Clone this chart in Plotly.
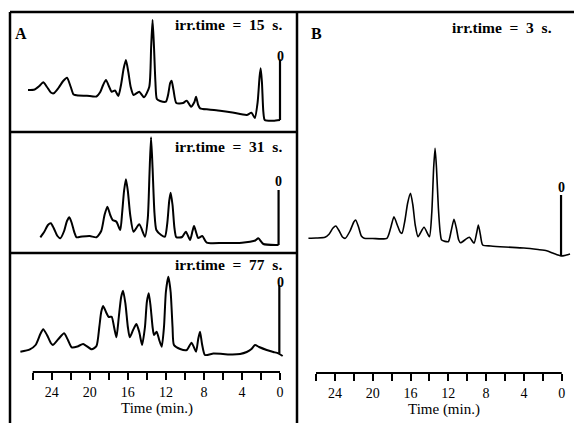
import plotly.graph_objects as go

W, H = 579, 423

# ---------------- data (time in min, detector signal in arbitrary units) ----------------
A1_T = [26.5, 25.8, 25.3, 24.9, 24.5, 24.1, 23.8, 23.3, 22.8, 22.4, 22.0, 21.7, 21.2, 20.3, 19.3, 18.9, 18.6, 18.3,
        18.0, 17.7, 17.35, 17.0, 16.7, 16.45, 16.2, 15.95, 15.7, 15.4, 14.8, 14.3, 13.75, 13.55, 13.4, 13.25, 13.1,
        12.95, 12.6, 12.0, 11.75, 11.55, 11.4, 11.2, 10.9, 10.2, 9.8, 9.36, 9.0, 8.83, 8.6, 8.4, 7.5, 6.3, 5.0, 3.5,
        3.0, 2.65, 2.35, 2.15, 2.03, 1.9, 1.75, 1.6, 0.7, 0.0]
A1_V = [42, 42.5, 46, 49.7, 45, 39.5, 38.7, 44, 51, 54.3, 45, 37.5, 36.5, 36.3, 35.5, 40, 47, 52,
        46, 40.3, 41.5, 36, 48, 63, 72, 60, 45, 37, 40.3, 34.7, 45, 85, 112, 85, 50,
        33, 31, 30.3, 38, 49, 51.3, 42, 29, 29, 31.3, 25.3, 30, 35.3, 27, 23.7, 22.5, 21.3, 19.5, 17,
        19.3, 14, 30, 55, 63.7, 50, 20, 12, 11.3, 12]

A2_T = [25.2, 24.8, 24.4, 24.1, 23.8, 23.4, 23.1, 22.7, 22.4, 22.15, 21.9, 21.6, 21.4, 20.8, 20.0, 19.3, 18.8, 18.45,
        18.15, 17.85, 17.6, 17.2, 16.8, 16.6, 16.4, 16.2, 16.0, 15.75, 15.4, 14.8, 14.2, 13.9, 13.72, 13.56, 13.4,
        13.2, 13.0, 12.5, 12.1, 11.85, 11.65, 11.5, 11.3, 11.1, 10.9, 10.3, 9.9, 9.46, 9.2, 9.04, 8.8, 8.6, 8.17,
        7.7, 6.0, 4.0, 3.15, 2.6, 2.28, 1.75, 0.35, 0.15]
A2_V = [15.7, 21, 28, 29.7, 25, 17, 14.7, 22, 32, 35.7, 30, 20, 15.7, 16.5, 17, 15.7, 22, 38,
        46.3, 38, 33, 31.3, 23, 40, 62, 73.7, 62, 38, 21.3, 28.7, 16.3, 35, 80, 115.7, 85,
        40, 23, 18, 16.3, 30, 52, 60.3, 48, 25, 15.7, 16, 21.3, 13, 22, 27, 20, 15, 17,
        10.3, 10, 10.3, 11.3, 12.5, 14.7, 9, 8, 8]

A3_T = [27.3, 26.3, 25.7, 25.2, 24.9, 24.5, 24.1, 23.9, 23.3, 22.7, 22.3, 21.9, 21.3, 20.7, 19.8, 19.3, 19.0, 18.8,
        18.6, 18.3, 18.0, 17.7, 17.45, 17.2, 16.95, 16.7, 16.5, 16.25, 16.0, 15.8, 15.45, 15.1, 14.8, 14.5, 14.2,
        14.0, 13.8, 13.6, 13.4, 13.25, 12.97, 12.7, 12.44, 12.2, 12.0, 11.74, 11.5, 11.3, 11.15, 10.5, 9.8, 9.3,
        8.83, 8.6, 8.41, 8.2, 7.89, 7.0, 6.0, 5.0, 4.2, 3.5, 3.0, 2.63, 2.2, 1.4, 0.7, 0.18, -0.28]
A3_V = [20.3, 22.7, 27, 38, 42.7, 37, 29, 27, 33, 38.7, 32, 24.7, 25.5, 28, 22.7, 26, 45, 60,
        66, 60, 55, 55.3, 45, 34.7, 55, 75, 81.3, 68, 45, 34.7, 42, 48, 40, 27, 45,
        70, 78.7, 65, 45, 37, 40.3, 32, 25.3, 45, 80, 95.3, 80, 45, 27, 23, 22, 29.3,
        20.3, 33, 40.3, 28, 17, 18.5, 18, 17.5, 18, 20, 23, 27, 25, 22, 20, 18.7, 16]

B_T = [26.8, 26.0, 25.05, 24.6, 24.2, 23.9, 23.6, 23.2, 22.9, 22.4, 22.0, 21.8, 21.5, 21.2, 20.9, 20.0, 18.5, 18.1,
       17.75, 17.4, 17.1, 16.9, 16.6, 16.3, 16.0, 15.75, 15.5, 15.2, 14.57, 14.0, 13.75, 13.55, 13.4, 13.25, 13.05,
       12.85, 12.7, 12.0, 11.7, 11.4, 11.15, 10.9, 10.7, 9.78, 9.28, 9.0, 8.82, 8.6, 8.36, 7.5, 6.0, 4.0, 2.5, 1.59,
       0.89, 0.07, -0.5, -0.88]
B_V = [134.7, 135, 135.7, 139, 145, 147, 143, 136, 134.7, 142, 151, 153, 146, 137, 134.7, 134.5, 134.7, 145,
       156.3, 148, 141, 139.7, 152, 170, 179.7, 168, 148, 136.3, 145.7, 136.3, 160, 205, 224.7, 205, 165,
       140, 133, 131.3, 142, 153.7, 145, 133, 130.3, 135.7, 129.7, 140, 148, 138, 128, 127, 126, 125, 123.5, 122.3,
       119.7, 117, 118, 119]

# injection marker "0": time, base and top of the vertical line
INJ_T = [0.0, 0.15, 0.07, 0.07]
INJ_BASE = [12, 8, 18.5, 117]
INJ_TOP = [72.7, 63, 87, 178]

PANEL_LABELS = ["irr.time = 15 s.", "irr.time = 31 s.", "irr.time = 77 s.", "irr.time = 3 s."]
TICK_VALS = [26, 24, 22, 20, 18, 16, 14, 12, 10, 8, 6, 4, 2, 0]
TICK_TEXT = [str(v) if v % 4 == 0 else "" for v in TICK_VALS]
X_TITLE = "Time (min.)"

# ---------------- geometry helpers (pixel -> paper) ----------------
def pxx(x):
    return x / W

def pyy(y):
    return 1 - y / H

# x mapping: panel A pixel = 280 - 9.51 t ; panel B pixel = 561.7 - 9.45 t
A_L, A_R = 12, 295
B_L, B_R = 300, 578
A_RANGE = [(280 - A_L) / 9.51, (280 - A_R) / 9.51]
B_RANGE = [(561.7 - B_L) / 9.45, (561.7 - B_R) / 9.45]

PANELS = [
    dict(t=A1_T, v=A1_V, xd=(A_L, A_R), yd=(12, 132), xr=A_RANGE),
    dict(t=A2_T, v=A2_V, xd=(A_L, A_R), yd=(132, 253), xr=A_RANGE),
    dict(t=A3_T, v=A3_V, xd=(A_L, A_R), yd=(253, 372), xr=A_RANGE),
    dict(t=B_T, v=B_V, xd=(B_L, B_R), yd=(12, 373), xr=B_RANGE),
]

fig = go.Figure()
SERIF = "Liberation Serif, Times New Roman, serif"

for i, p in enumerate(PANELS):
    n = i + 1
    xa = "x" if n == 1 else f"x{n}"
    ya = "y" if n == 1 else f"y{n}"
    lw = 2.0 if n < 4 else 1.6
    fig.add_trace(go.Scatter(x=p["t"], y=p["v"], mode="lines", xaxis=xa, yaxis=ya,
                             line=dict(color="#000", width=lw, shape="spline", smoothing=0.6),
                             hoverinfo="skip", showlegend=False))
    fig.add_trace(go.Scatter(x=[INJ_T[i], INJ_T[i]], y=[INJ_BASE[i], INJ_TOP[i]], mode="lines",
                             xaxis=xa, yaxis=ya, line=dict(color="#000", width=2.2),
                             hoverinfo="skip", showlegend=False))
    top, bot = p["yd"]
    show_ticks = n in (3, 4)
    xkey = "xaxis" if n == 1 else f"xaxis{n}"
    ykey = "yaxis" if n == 1 else f"yaxis{n}"
    fig.update_layout(**{
        xkey: dict(domain=[pxx(p["xd"][0]), pxx(p["xd"][1])], range=p["xr"], anchor=ya,
                   showgrid=False, zeroline=False, showline=False, automargin=False,
                   ticks="outside" if show_ticks else "", ticklen=7, tickwidth=2, tickcolor="#000",
                   tickvals=TICK_VALS if show_ticks else [], ticktext=TICK_TEXT if show_ticks else [],
                   showticklabels=show_ticks,
                   tickfont=dict(family=SERIF, size=14, color="#000")),
        ykey: dict(domain=[pyy(bot), pyy(top)], range=[0, bot - top], anchor=xa,
                   visible=False, fixedrange=True),
    })
    if show_ticks:
        fig.add_shape(type="line", xref=xa, yref="paper", x0=26, x1=0, y0=pyy(bot), y1=pyy(bot),
                      line=dict(color="#000", width=2.2))

# frames
frame = [
    (10, 12, 10, 423), (10, 12, 574, 12), (297, 12, 297, 423),
    (10, 132, 297, 132), (10, 253, 297, 253),
]
for x0, y0, x1, y1 in frame:
    fig.add_shape(type="line", xref="paper", yref="paper", x0=pxx(x0), y0=pyy(y0), x1=pxx(x1), y1=pyy(y1),
                  line=dict(color="#000", width=2.5))

def ann(text, x, y, size=14, bold=False, xanchor="center"):
    fig.add_annotation(text=f"<b>{text}</b>" if bold else text, x=pxx(x), y=pyy(y), xref="paper", yref="paper",
                       xanchor=xanchor, yanchor="middle", showarrow=False,
                       font=dict(family=SERIF, size=size, color="#000"))

NB = "\u00a0"
def spaced(s):
    return (NB * 2).join(s.split(" "))

ann("A", 21, 33, 16, True)
ann("B", 316.5, 33, 16, True)
label_pos = [(284, 25), (284, 147), (284, 264), (554, 28)]
for s, (x, y) in zip(PANEL_LABELS, label_pos):
    ann(spaced(s), x, y, 15.5, True, "right")
zero_pos = [(280, 57), (278, 182), (280, 282), (561, 187)]
for x, y in zero_pos:
    ann("0", x, y, 14, True)
ann(X_TITLE, 157, 408, 15)
ann(X_TITLE, 444, 409, 15)

fig.update_layout(width=W, height=H, margin=dict(l=0, r=0, t=0, b=0),
                  paper_bgcolor="white", plot_bgcolor="rgba(0,0,0,0)")
fig.write_html("out.html")
